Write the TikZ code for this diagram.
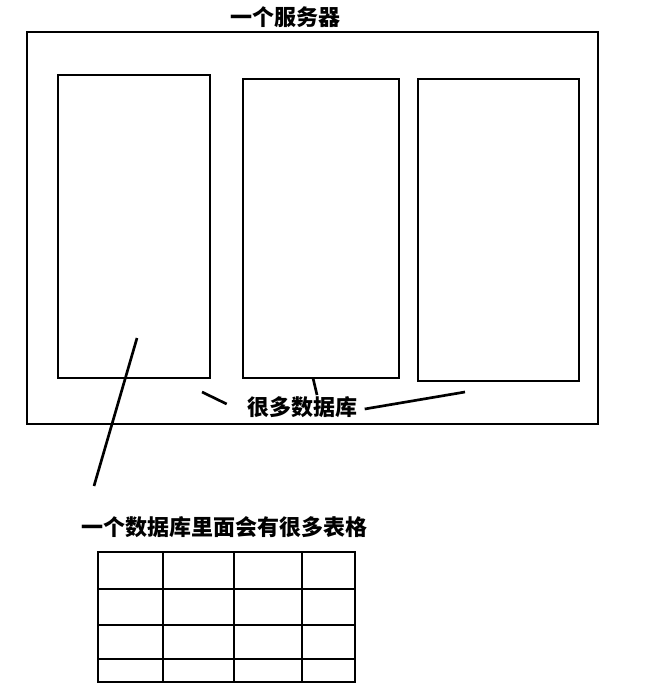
\documentclass[tikz,border=0pt]{standalone}
\usepackage{fontspec}
\newfontfamily\cjk{Noto Sans CJK SC}
\tikzset{every picture/.style={line width=2pt}}
\tikzset{label text/.style={inner sep=0.75pt,font=\cjk\bfseries\fontsize{16.5}{18}\selectfont}}

\begin{document}
\begin{tikzpicture}[x=0.75pt,y=0.75pt,yscale=-1,xscale=1]
\useasboundingbox (0,0) rectangle (647,688);

%Shape: Rectangle (server)
\draw (27,32) rectangle (598,424);
%Shape: Rectangle (databases)
\draw (58,75) rectangle (210,378);
\draw (243,79) rectangle (399,378);
\draw (418,79) rectangle (579,381);

%Shape: Table
\draw (98,552) rectangle (355,682);
\draw (98,589) -- (355,589);
\draw (98,625) -- (355,625);
\draw (98,659) -- (355,659);
\draw (163,552) -- (163,682);
\draw (234,552) -- (234,682);
\draw (302,552) -- (302,682);

% Text Node
\node [label text] (server) at (285,17) {一个服务器};
% Text Node
\node [label text] (dbs) at (302,407) {很多数据库};
% Text Node
\node [label text] (tables) at (224.5,527) {一个数据库里面会有很多表格};

\coordinate (db1in) at (137,338);
\coordinate (db1out) at (94,486);
\coordinate (db2foot) at (313,378);
\coordinate (lefttick) at (202,392);
\coordinate (righttick) at (465,392);

%Straight Lines
\draw (lefttick) -- ([xshift=-13.5pt]dbs.west |- 0,404);
\draw (db2foot) -- (317,395);
\draw ([xshift=4pt]dbs.east |- 0,409) -- (righttick);
\draw (db1in) -- (db1out);

\end{tikzpicture}
\end{document}
